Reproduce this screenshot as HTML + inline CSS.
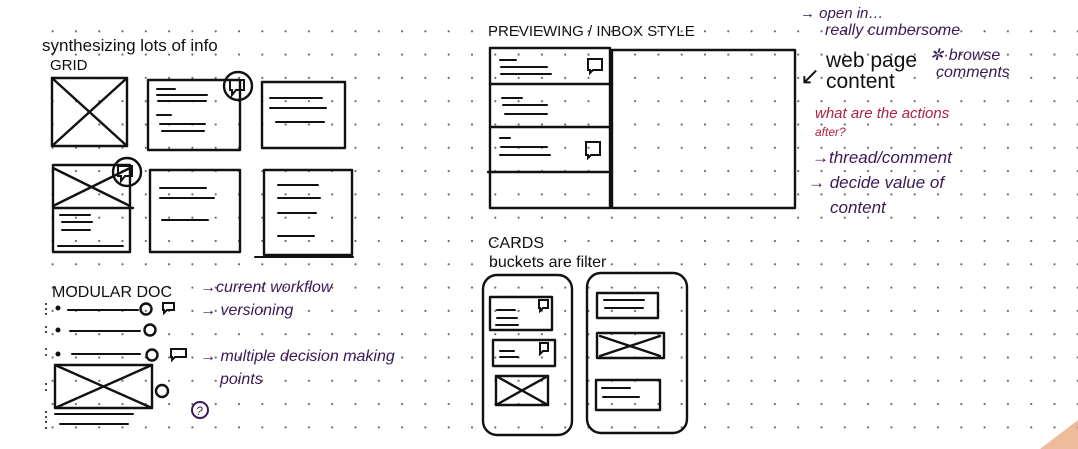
<!DOCTYPE html>
<html><head><meta charset="utf-8"><style>
html,body{margin:0;padding:0;background:#fff;}
svg{display:block;}
text{font-family:"Liberation Sans",sans-serif;}
.k{stroke:#111;stroke-width:2.4;fill:none;stroke-linecap:round;stroke-linejoin:round;}
.t{stroke:#111;stroke-width:2;fill:none;stroke-linecap:round;}
.p{fill:#3a1a55;font-style:italic;}
.b{fill:#111;}
.r{fill:#b02040;font-style:italic;}
</style></head><body>
<svg width="1078" height="449" viewBox="0 0 1078 449" xmlns="http://www.w3.org/2000/svg">
<defs><pattern id="d" x="4" y="6" width="23.3" height="23.3" patternUnits="userSpaceOnUse"><circle cx="2" cy="2" r="1.1" fill="#444"/></pattern></defs>
<rect width="1078" height="449" fill="#fff"/>
<rect x="45" y="10" width="1033" height="430" fill="url(#d)" opacity="0.8"/>
<path d="M1040 449 L1078 420 L1078 449Z" fill="#e8a070" opacity="0.7"/>

<text x="42" y="51" class="b" style="font-size:17px">synthesizing lots of info</text>
<text x="50" y="70" class="b" style="font-size:15px">GRID</text>

<rect x="52" y="78" width="75" height="68" class="k"/><path d="M52 78 L127 146 M127 78 L52 146" class="k"/>
<rect x="148" y="80" width="92" height="70" class="k"/>
<path d="M157 89h18 M157 95h50 M158 101h48 M157 115h14 M160 124h45 M162 131h42" class="t"/>
<circle cx="238" cy="86" r="14" class="k"/><path d="M230 80h14v10h-8l-4 5v-5h-2z" class="t"/>
<rect x="262" y="82" width="83" height="66" class="k"/>
<path d="M270 98h52 M270 108h56 M276 122h48" class="t"/>
<rect x="53" y="165" width="77" height="87" class="k"/><path d="M53 208h80 M53 168 L130 206 M130 168 L53 206" class="k"/>
<path d="M60 215h30 M62 222h30 M62 230h28 M58 246h65" class="t"/>
<circle cx="127" cy="172" r="14" class="k"/><path d="M118 166h14v10h-7l-4 5v-5h-3z" class="t"/>
<rect x="150" y="170" width="90" height="82" class="k"/>
<path d="M160 188h46 M160 198h54 M162 220h46" class="t"/>
<rect x="264" y="170" width="88" height="85" class="k"/>
<path d="M278 185h40 M278 198h42 M278 213h38 M278 236h36 M255 257h98" class="t"/>

<text x="52" y="297" class="b" style="font-size:16px">MODULAR DOC</text>
<g fill="#111"><circle cx="58" cy="308" r="2.5"/><circle cx="58" cy="330" r="2.5"/><circle cx="58" cy="354" r="2.5"/></g>
<g fill="#111"><circle cx="46" cy="304" r="1"/><circle cx="46" cy="309" r="1"/><circle cx="46" cy="314" r="1"/><circle cx="46" cy="327" r="1"/><circle cx="46" cy="332" r="1"/><circle cx="46" cy="349" r="1"/><circle cx="46" cy="355" r="1"/><circle cx="46" cy="384" r="1"/><circle cx="46" cy="390" r="1"/><circle cx="46" cy="412" r="1"/><circle cx="46" cy="417" r="1"/><circle cx="46" cy="422" r="1"/><circle cx="46" cy="428" r="1"/></g>
<path d="M68 310h70 M70 331h70 M72 354h68" class="t"/>
<circle cx="146" cy="309" r="5.5" class="k"/><circle cx="150" cy="330" r="5.5" class="k"/><circle cx="152" cy="355" r="5.5" class="k"/>
<path d="M163 303h11v7h-7l-3 3v-3h-1z M171 349h15v8h-11l-3 3v-3h-1z" class="t"/>
<rect x="55" y="365" width="97" height="43" class="k"/><path d="M55 365 L152 408 M152 365 L55 408" class="k"/>
<circle cx="162" cy="391" r="6" class="k"/>
<path d="M55 414h78 M60 424h68" class="t"/>
<circle cx="200" cy="410" r="8" stroke="#3a1a55" stroke-width="2" fill="none"/><text x="196" y="415" class="p" style="font-size:12px">?</text>
<text x="200" y="292" class="p" style="font-size:16px">→current workflow</text>
<text x="200" y="315" class="p" style="font-size:16px">→ versioning</text>
<text x="200" y="361" class="p" style="font-size:16px">→ multiple decision making</text>
<text x="220" y="384" class="p" style="font-size:16px">points</text>

<text x="488" y="36" class="b" style="font-size:15px">PREVIEWING / INBOX STYLE</text>
<rect x="490" y="48" width="120" height="160" class="k"/>
<path d="M490 84h120 M490 127h120 M488 172h120" class="k"/>
<rect x="612" y="50" width="183" height="158" class="k"/>
<path d="M500 60h16 M501 67h46 M501 74h50 M502 98h20 M503 105h44 M505 114h42 M500 138h10 M501 147h46 M500 155h50" class="t"/>
<path d="M588 59h14v11h-9l-3 3v-3h-2z M586 142h14v13h-9l-3 3v-3h-2z" class="t"/>
<text x="800" y="18" class="p" style="font-size:15px">→ open in…</text>
<text x="825" y="35" class="p" style="font-size:16px">really cumbersome</text>
<text x="800" y="84" class="b" style="font-size:24px">↙</text>
<text x="826" y="67" class="b" style="font-size:21px">web page</text>
<text x="826" y="88" class="b" style="font-size:21px">content</text>
<text x="930" y="60" class="p" style="font-size:16px">✲·browse</text>
<text x="936" y="77" class="p" style="font-size:16px">comments</text>
<text x="815" y="118" class="r" style="font-size:15px">what are the actions</text>
<text x="815" y="136" class="r" style="font-size:12px">after?</text>
<text x="812" y="163" class="p" style="font-size:17px">→thread/comment</text>
<text x="808" y="188" class="p" style="font-size:17px">→ decide  value of</text>
<text x="830" y="213" class="p" style="font-size:17px">content</text>

<text x="488" y="248" class="b" style="font-size:16px">CARDS</text>
<text x="489" y="267" class="b" style="font-size:16px">buckets are filter</text>
<rect x="483" y="275" width="89" height="160" rx="14" class="k"/>
<rect x="587" y="273" width="100" height="160" rx="14" class="k"/>
<rect x="490" y="297" width="62" height="33" class="k"/><path d="M497 310h18 M497 318h20 M496 325h22" class="t"/><path d="M539 300h9v8h-5l-3 3v-3h-1z" class="t"/>
<rect x="493" y="340" width="62" height="26" class="k"/><path d="M500 351h14 M500 357h18" class="t"/><path d="M540 343h8v8h-5l-3 3z" class="t"/>
<rect x="496" y="376" width="52" height="29" class="k"/><path d="M496 376 L548 405 M548 376 L496 405" class="k"/>
<rect x="597" y="293" width="61" height="25" class="k"/><path d="M604 300h40 M605 308h38" class="t"/>
<rect x="597" y="333" width="67" height="25" class="k"/><path d="M600 336 L660 356 M660 336 L600 356" class="k"/>
<rect x="596" y="380" width="64" height="30" class="k"/><path d="M602 388h28 M603 397h36" class="t"/>
</svg>
</body></html>
